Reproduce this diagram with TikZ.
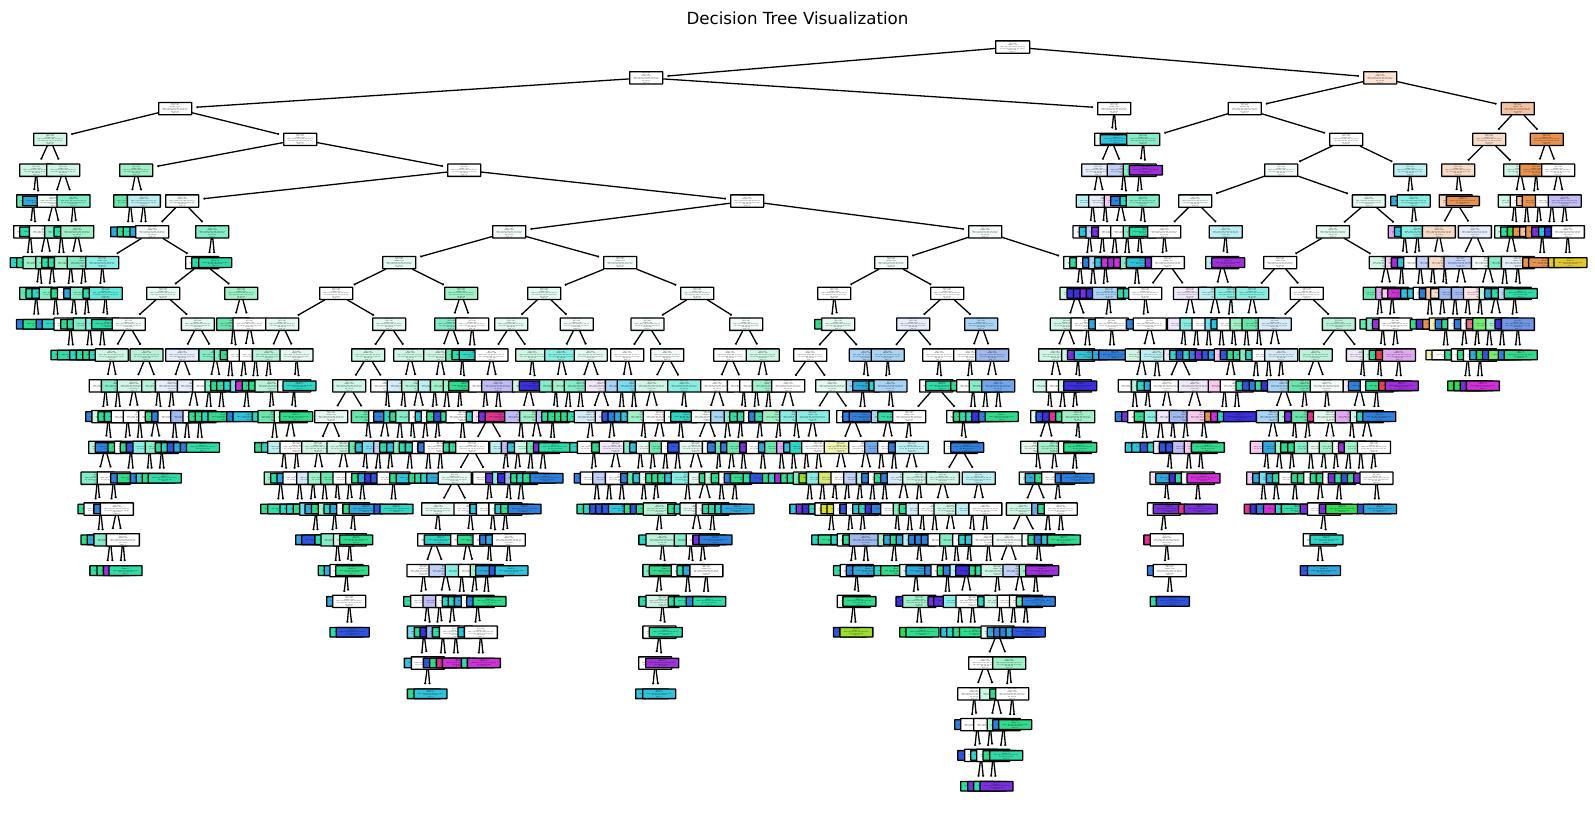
\documentclass[tikz,border=0pt]{standalone}
\usepackage{fontspec}
\setmainfont{DejaVu Sans}
\usetikzlibrary{arrows.meta}
\definecolor{cW}{HTML}{FFFFFF}\definecolor{ca}{HTML}{F3FCF8}\definecolor{cb}{HTML}{E4F9F0}
\definecolor{cc}{HTML}{D0F6E6}\definecolor{cd}{HTML}{BAF3DA}\definecolor{ce}{HTML}{A0F0C8}
\definecolor{cf}{HTML}{84ECC6}\definecolor{cg}{HTML}{6AE6AC}\definecolor{ch}{HTML}{30DC8C}
\definecolor{ci}{HTML}{2FDCA8}\definecolor{cj}{HTML}{2FD5C4}\definecolor{ck}{HTML}{2FC4DC}
\definecolor{cl}{HTML}{2FA8DC}\definecolor{cm}{HTML}{2F80DC}\definecolor{cn}{HTML}{2F55DC}
\definecolor{co}{HTML}{3A30DC}\definecolor{cp}{HTML}{7A30DC}\definecolor{cq}{HTML}{A030DC}
\definecolor{cr}{HTML}{D030D8}\definecolor{cs}{HTML}{E03090}\definecolor{ct}{HTML}{30DC50}
\definecolor{cu}{HTML}{88EEE4}\definecolor{cv}{HTML}{BCEFF3}\definecolor{cx}{HTML}{D4ECF8}
\definecolor{cy}{HTML}{A8D4F5}\definecolor{cz}{HTML}{E6EDFB}\definecolor{cA}{HTML}{C0D0F6}
\definecolor{cB}{HTML}{A0B8F0}\definecolor{cC}{HTML}{C0BCF5}\definecolor{cD}{HTML}{F0E8F8}
\definecolor{cE}{HTML}{E0A8F0}\definecolor{cF}{HTML}{F8C8F0}\definecolor{cG}{HTML}{F8DCC8}
\definecolor{cH}{HTML}{F3C3A0}\definecolor{cI}{HTML}{E8924F}\definecolor{cJ}{HTML}{E0C830}
\definecolor{cK}{HTML}{D8DC30}\definecolor{cL}{HTML}{F0F4B0}\definecolor{cM}{HTML}{E84050}
\definecolor{cN}{HTML}{9ADC30}\definecolor{cO}{HTML}{FBE3E8}\definecolor{cP}{HTML}{70EE70}
\definecolor{cQ}{HTML}{FBE3D4}\definecolor{cR}{HTML}{E87088}\definecolor{cS}{HTML}{7096E8}
\definecolor{cT}{HTML}{70A8EC}\definecolor{cV}{HTML}{78DCF0}\definecolor{cU}{HTML}{5A30DC}
\definecolor{cX}{HTML}{60E8D8}\definecolor{cZ}{HTML}{D8E870}
\newcommand\TinyF{\fontsize{1.25}{1.6}\selectfont}
\newcommand\InT{x[12] <= 0.5\\gini = 0.87\\samples = 120\\value = [12.0, 3.0, 5.0, 8.0, 4.0, 9.0, 1.0,\\2.0, 7.0, 6.0, 3.0, 5.0, 2.0, 4.0, 1.0, 3.0,\\0.0, 3.0, 9.0]\\class = 4}
\newcommand\LfT{gini = 0.5\\samples = 4\\value = [0.0, 0.0, 2.0, 0.0, 0.0, 2.0, 0.0,\\0.0, 0.0, 0.0, 0.0, 0.0]\\class = 2}
\tikzset{
 treebox/.style={draw=black,line width=1.3pt,rounded corners=0.35pt,anchor=west,minimum width=33pt,inner sep=0pt,align=center,font=\TinyF},
 inbox/.style={treebox,minimum height=12.3pt},
 lfbox/.style={treebox,minimum height=9.6pt},
 treeedge/.style={draw=black,line width=1.3pt,shorten >=4pt,shorten <=-0.5pt,-{Straight Barb[length=0.5pt,width=1.8pt]}}
}
\newcount\TRk \newcount\TRi \newcount\TRj
\newdimen\TRbest \newdimen\TRd \newdimen\TRmid \newdimen\TRy
\newcommand{\TRfind}[1]{%
 \TRj=1 \TRbest=16000pt
 \loop\ifnum\TRj<\numexpr\csname NI-#1\endcsname+1\relax
  \TRd=\dimexpr\csname IX-#1-\the\TRj\endcsname-\TRmid\relax
  \ifdim\TRd<0pt \TRd=-\TRd \fi
  \ifdim\TRd<\TRbest \TRbest=\TRd \edef\TRparent{\csname IN-#1-\the\TRj\endcsname}\fi
  \advance\TRj by 1
 \repeat}
\newcommand{\TRnode}[4]{%
 \global\advance\TRk by 1
 \edef\TRname{n#1x\the\TRk}%
 \ifnum#4=1
  \global\advance\TRi by 1
  \expandafter\xdef\csname IX-#1-\the\TRi\endcsname{#2pt}%
  \expandafter\xdef\csname IN-#1-\the\TRi\endcsname{\TRname}%
  \node[inbox,fill=c#3] (\TRname) at (#2pt,-\the\TRy) {\InT};
 \else
  \node[lfbox,fill=c#3] (\TRname) at (#2pt,-\the\TRy) {\LfT};
 \fi
 \draw[treeedge] (\TRparent) -- (\TRname);}
\newcommand{\TreeRow}[2]{%
 \global\TRk=0 \global\TRi=0
 \TRy=\dimexpr 47pt+30.8pt*#1\relax
 \foreach \xa/\ca/\ta/\xb/\cb/\tb in {#2}{%
  \TRmid=\dimexpr(\xa pt+\xb pt)/2\relax
  \TRfind{\the\numexpr#1-1\relax}%
  \TRnode{#1}{\xa}{\ca}{\ta}%
  \TRnode{#1}{\xb}{\cb}{\tb}%
 }%
 \expandafter\xdef\csname NI-#1\endcsname{\the\TRi}}
\begin{document}
\begin{tikzpicture}[x=1pt,y=1pt]
\path[fill=white] (0pt,0pt) rectangle (1595pt,-812pt);
\useasboundingbox (0pt,0pt) rectangle (1595pt,-812pt);
\node[font=\fontsize{16.7}{20}\selectfont,inner sep=0pt] (title) at (797.5pt,-18.5pt) {Decision Tree Visualization};
\node[inbox,fill=cW,minimum width=34pt] (n0x1) at (995pt,-47pt) {\InT};
\expandafter\xdef\csname NI-0\endcsname{1}
\expandafter\xdef\csname IX-0-1\endcsname{995pt}
\expandafter\xdef\csname IN-0-1\endcsname{n0x1}
\TreeRow{1}{629/W/1/1363/Q/1}
\TreeRow{2}{158/W/1/1097/W/1,1227.6/W/1/1500.6/H/1}
\TreeRow{3}{33/c/1/283/W/1,1094/a/1/1099.5/k/0,1126/f/1/1329/W/1,1472/G/1/1529.5/I/1}
\TreeRow{4}{19/c/1/46/c/1,119/e/1/447/W/1,1081/z/1/1106.5/A/1,1122.5/f/1/1128.7/q/0,1264/a/1/1393/v/1,1441/G/1/1503/c/1,1519/I/1/1541/W/1}
\TreeRow{5}{16/g/1/22/l/0,36.5/a/1/56.4/f/1,113/g/1/126.7/v/1,165/a/1/730/W/1,1075.5/v/1/1088/z/1,1103.5/F/1/1110/m/0,1119.4/j/0/1125.6/f/1,1178/a/1/1351.7/b/1,1390/l/0/1396.5/u/1,1438.5/G/1/1445.7/I/0,1497.5/c/1/1509.5/W/1,1516/H/0/1521.5/I/1,1534.8/W/1/1547.6/C/1}
\TreeRow{6}{13/W/1/19/i/0,28.7/a/1/44/f/1,53.4/i/0/60/e/1,110/l/0/116.5/h/0,122.6/i/0/129.4/l/0,135/a/1/195/f/1,492/a/1/968/a/1,1072.4/W/1/1078.6/k/0,1085.3/A/1/1091/p/0,1097.7/W/1/1110/W/1,1122.5/f/1/1128.7/i/0,1147/W/1/1208.5/v/1,1315.8/b/1/1387.6/E/1,1393.8/k/0/1400.4/u/1,1421.7/G/1/1457.7/z/1,1494/c/1/1500/i/0,1506.7/t/0/1512.3/I/0,1519/H/0/1525/I/1,1531/p/0/1538/k/0,1544/o/0/1550.7/W/1}
\TreeRow{7}{9.5/j/0/16/i/0,22.3/e/1/35/f/1,41/i/0/47.6/i/0,53.7/e/1/66.5/f/1,85/u/1/185/W/1,191/i/0/198/i/0,382/b/1/603/a/1,874/a/1/1063/b/1,1069/i/0/1075.7/W/1,1082/m/0/1088/y/1,1094/k/0/1100.7/r/0,1107/q/0/1113/r/0,1119.6/f/1/1125.7/k/0,1144.6/p/0/1150.7/W/1,1205/v/1/1211/q/0,1263/W/1/1368.6/c/1,1384.6/F/1/1390.7/q/0,1396.8/k/0/1403/W/1,1415.7/A/1/1427.7/G/1,1443.3/A/1/1470.7/a/1,1487.7/f/1/1500.7/z/1,1522/I/0/1528/I/0,1547.7/J/0/1553.3/J/0}
\TreeRow{8}{19/g/1/25.3/i/0,31.4/j/0/38.5/f/1,50.3/h/0/56.8/W/1,63/l/0/69.6/f/1,82.4/i/0/88.5/X/1,146/b/1/224/e/1,319/W/1/444/e/1,527/b/1/680/a/1,817/W/1/930/W/1,1059.3/c/1/1066.4/o/0,1072.9/o/0/1079.3/p/0,1085.7/o/0/1091.8/y/1,1116.8/i/0/1122.9/j/0,1128/W/1/1172.9/D/1,1197.9/v/1/1214/u/1,1235/u/1/1289.6/W/1,1362.5/g/1/1375/E/1,1381.4/F/0/1387/r/0,1400/k/0/1406.8/k/0,1412.5/W/1/1418.6/m/0,1425/H/1/1430/G/0,1438/B/1/1450.7/B/1,1462.9/O/1/1478.6/d/1,1484/l/0/1490.7/i/0,1497.5/A/1/1503.6/i/0}
\TreeRow{9}{15.9/m/0/22.3/h/0,35.5/m/0/41.6/j/0,53.4/W/1/60/h/0,66.6/i/0/72.6/f/1,85/u/1/91/i/0,111.5/a/1/180.7/b/1,216/g/1/232.4/W/1,265/b/1/372/b/1,434/f/1/455/W/1,494/b/1/559.5/a/1,630.4/a/1/729/a/1,814/h/0/821/b/1,896/z/1/964/y/1,1049.6/c/1/1070.4/W/1,1088/l/0/1094.6/W/1,1125.7/m/0/1132.5/W/1,1166.8/D/1/1179.3/u/1,1191.4/W/1/1204.3/V/1,1210.4/k/0/1216.4/W/1,1229.3/e/1/1241.4/g/1,1257.5/x/1/1321.7/d/1,1359.3/g/0/1365.7/f/1,1371.8/q/0/1378.2/W/1,1409.6/h/0/1415.7/U/0,1422/I/0/1428.6/L/1,1434.6/m/0/1441/h/0,1447/W/1/1453.6/m/0,1460/W/1/1465.7/R/0,1472/P/1/1485/e/1,1494.3/o/0/1500.7/S/1}
\TreeRow{10}{50.3/i/0/56.8/i/0,69/j/0/75.7/i/0,82/h/0/88.5/j/0,94.6/c/1/129.4/d/1,165/z/1/198.3/f/1,213.5/f/1/219.6/h/0,226.7/W/1/238.5/W/1,251.7/d/1/279.4/b/1,351/c/1/393/c/1,423/c/1/445/g/1,451.4/i/0/458.5/j/0,474.3/W/1/515/c/1,544/u/1/573.6/b/1,610/W/1/650/a/1,713/W/1/745.6/c/1,793/W/1/848.6/y/1,870.6/y/1/922/W/1,953/W/1/975/B/1,1038/c/1/1061/c/1,1066.8/p/0/1073.6/k/0,1091.8/l/0/1098/m/0,1124.6/c/1/1139.6/v/1,1163/D/1/1169/j/0,1175.7/n/0/1182/j/0,1188.6/m/0/1194.6/p/0,1201.4/n/0/1207.5/l/0,1213.6/F/1/1219.6/n/0,1226.4/h/0/1232.5/i/0,1239/f/1/1245/j/0,1251.4/W/1/1264/x/1,1298.6/d/1/1345.7/D/1,1362.5/c/1/1368.6/h/0,1375/M/0/1381.8/E/1,1425.4/L/0/1431.4/W/0,1444/h/0/1450.7/W/1,1456.8/h/0/1462.9/W/1,1469/l/0/1475.7/t/0,1481.8/n/0/1487.9/P/0,1497.5/m/0/1503.6/h/0}
\TreeRow{11}{88.5/W/1/100.7/f/1,116.6/c/1/141/d/1,154.7/z/1/176.7/z/1,192/W/1/204.4/f/1,210/h/0/216/i/0,223/j/0/229.7/V/1,235/r/0/241.5/h/0,248/h/0/254.4/d/1,277/W/1/282.4/j/0,332/c/1/370/W/1,386.5/x/1/401/d/1,417.6/v/1/429.7/e/1,442.6/e/1/448/h/0,468/W/1/481/C/1,511.8/c/1/518.6/o/0,538.9/f/1/551.7/e/1,563.5/f/1/584.5/D/1,604.7/y/1/616.6/V/1,634.5/c/1/667/u/1,700/W/1/726.7/W/1,739/W/1/751.7/e/1,771/W/1/815/b/1,845.6/y/1/852/l/0,868.2/j/0/873.3/y/1,919/W/1/925/i/0,950/h/0/956/W/1,968.6/f/1/981/T/1,1032.5/c/1/1045.7/W/1,1057.9/c/1/1063/o/0,1117.5/W/1/1130.7/d/1,1136.4/j/0/1143.6/l/0,1149.6/W/1/1177.5/D/1,1207.5/F/1/1219.6/W/1,1235.4/i/0/1241.8/n/0,1248.6/m/0/1254.6/i/0,1260.7/o/0/1266.8/y/1,1287.5/g/1/1309.6/a/1,1342.5/D/1/1347.9/m/0,1359.6/W/1/1365/h/0,1378/M/0/1384.6/q/0,1447/t/0/1453.2/t/0,1459.6/p/0/1465.7/r/0}
\TreeRow{12}{85/m/0/91.2/c/1,97.3/h/0/103.7/i/0,110.5/W/1/122.6/W/1,138/W/1/144.6/h/0,151/m/0/157.4/W/1,170/B/1/182.4/W/1,188/h/0/194.6/h/0,201/j/0/207.4/h/0,226/m/0/232.4/k/0,251.7/j/0/257.4/g/1,273.6/c/1/279/h/0,314/b/1/350.7/g/1,368/W/1/373/m/0,383/j/1/389/h/0,395/f/1/408.4/W/1,414.5/k/0/420.6/W/1,426/h/0/433/n/0,440/i/0/445.3/W/1,465.5/j/0/471.6/D/1,478/p/0/484.5/s/0,504/C/1/519/e/1,535.5/C/1/541/i/0,547/h/0/554/h/0,560/h/0/566.6/i/0,573.6/x/1/594.6/D/1,601.4/n/0/607.4/m/0,613.9/l/0/620/k/0,626.7/e/1/642.6/W/1,663.5/W/1/670/j/0,690.5/a/1/710/y/1,723.6/f/1/729/i/0,736.5/i/0/743/W/1,748/m/0/754/i/0,761.8/e/1/779/u/1,795.6/u/1/836/W/1,842/m/0/848.6/m/0,870.6/y/1/877/i/0,892/W/1/946/a/1,952.7/h/0/958.8/i/0,965/j/0/971/o/0,978/m/0/984.5/h/0,1030/b/1/1035.4/n/0,1041.8/o/0/1048.6/s/0,1055/h/0/1061/e/1,1114.6/m/0/1121/p/0,1127/W/1/1133.6/h/0,1143.6/u/1/1155.7/D/1,1168.6/B/1/1186.4/F/1,1204/I/0/1210/r/0,1216.8/j/0/1222.9/o/0,1255.7/y/1/1277.5/d/1,1284/p/0/1290.7/g/1,1306.8/s/0/1312.9/b/1,1334.6/E/1/1349.6/c/1,1356/j/0/1362/m/0}
\TreeRow{13}{88/d/1/94.6/m/0,107.4/h/0/113.9/W/1,119.6/h/0/125.7/n/0,132.4/u/1/144.6/f/1,154.7/i/0/160.5/j/0,166.6/n/0/173/l/0,179.7/m/0/185.8/i/0,254/h/0/260.8/j/0,267/v/1/279.4/W/1,301/c/1/326.4/c/1,348.3/g/1/354.7/k/0,361.5/V/1/373/A/1,379/i/0/386/k/0,392.9/f/1/398.6/i/0,404.7/j/0/411.5/W/1,417.2/m/0/423.3/W/1,442.6/i/0/448.6/i/0,455/W/1/489/v/1,500.7/C/1/506.8/k/0,513.9/c/1/526/g/1,532.8/p/0/538/i/0,569/j/0/576.7/W/1,591/h/0/598.6/D/1,623/f/1/629/k/0,635.5/b/1/648.6/g/1,660.5/W/1/667/n/0,678.4/b/1/701.7/W/1,706.8/m/0/714.5/g/1,720/m/0/726/g/1,739/p/0/745.6/W/1,757.8/l/0/764/g/1,776/E/1/783/k/0,789/j/1/801/W/1,823.6/L/1/848/W/1,864/T/1/877/W/1,887.8/m/0/894.6/v/1,943.6/a/1/950/m/0,1020/b/1/1037/e/1,1057.9/W/1/1063/h/0,1124.6/k/0/1131/k/0,1139.6/n/0/1146.8/j/0,1152.9/D/1/1158.6/n/0,1165/n/0/1171.8/C/1,1183.6/F/1/1190.7/h/0,1249.6/F/1/1262/l/1,1274.6/e/1/1280/h/0,1287/h/0/1293.6/f/1,1306.8/b/1/1318.6/e/1,1331.8/a/1/1337.9/q/0,1343.6/e/1/1356.8/W/1}
\TreeRow{14}{80.4/f/1/96.6/W/1,110/m/0/116.6/h/0,129.7/m/0/135.5/j/0,141.6/h/0/147.6/i/0,263.5/e/1/270/i/0,276.4/l/0/282.4/W/1,296/x/1/307.4/e/1,320/g/1/332.4/W/1,345/W/1/351/h/0,357.4/l/0/364/o/0,370/n/0/376.4/W/1,389/h/0/395.6/k/0,408/h/0/414/i/0,420/j/0/426/l/0,437.5/b/1/472/W/1,485/U/0/491.9/u/1,497/o/0/504/B/1,510/h/0/516/j/0,522/h/0/529.4/m/0,573.6/m/0/579.7/W/1,592/A/1/604.7/W/1,620/m/0/626.7/g/1,632.4/k/0/638.9/b/1,645/h/0/651/h/0,657/i/0/664/k/0,670.6/u/1/687.8/b/1,698.6/h/0/704/d/1,710.5/h/0/718/W/1,723.6/m/0/729.7/h/0,742.6/i/0/749.3/n/0,761.8/h/0/767.9/j/0,774/q/0/780/h/0,786.5/i/0/792.6/f/1,798.3/N/0/805.7/u/1,817.9/Z/1/830.4/W/1,843/A/1/855.7/d/1,861/m/0/867.6/W/1,873.6/h/0/880/m/0,886.5/x/1/902/c/1,925.7/c/1/961.5/v/1,1018.6/b/1/1024.6/l/0,1034/h/0/1041/W/1,1054.6/m/0/1060.4/m/0,1149.3/D/1/1155/l/0,1168.6/o/0/1174.6/i/0,1180.7/W/1/1186.4/r/0,1246/F/1/1252/l/0,1258.6/V/1/1265.7/l/0,1271.8/i/0/1278/W/1,1290.7/h/0/1296.8/h/0,1303/W/1/1309.6/h/0,1315.7/h/0/1322/W/1,1327.5/p/0/1334/i/0,1340.7/n/0/1346.8/h/0,1353/p/0/1359.3/W/1}
\TreeRow{15}{77.4/h/0/83.4/W/1,93.2/m/0/99.7/W/1,260/h/0/267/i/0,279.4/j/0/285.8/j/0,292.6/h/0/299/V/1,304.4/l/0/310.8/h/0,317.6/e/1/323.3/j/0,329.4/l/0/336/W/1,342.2/h/0/348.6/l/0,373.3/n/0/379.4/j/0,421/b/1/453.4/W/1,469.2/k/0/475.7/W/1,488.2/W/1/494.3/k/0,500/h/0/507.4/m/0,576.4/i/0/582.8/j/0,589/n/0/595/n/0,601.4/n/0/607.8/k/0,623.6/h/0/629.7/n/0,635.5/h/0/642.6/d/1,667/h/0/673.6/j/0,679.4/b/1/695.3/W/1,701.7/i/0/707.8/i/0,714.2/j/0/720.3/l/0,789.2/k/0/795.6/p/0,801.7/o/0/808/j/0,814.2/W/1/820.3/K/0,826.4/K/0/832.8/W/1,839.2/n/0/845.6/W/1,852/k/0/858/j/0,864.5/o/0/870.6/m/0,880/W/1/892.6/f/1,898.6/h/0/905.4/x/1,917.6/W/1/933.4/c/1,955/v/1/968.2/W/1,1005.7/c/1/1031/T/1,1037/h/0/1043.6/W/1,1146.8/W/1/1152.5/p/0,1177.9/s/0/1183.6/p/0,1243.6/s/0/1249.6/o/0,1255.7/m/0/1262.9/r/0,1274.6/j/0/1280.7/i/0,1299.6/p/0/1306.8/W/1,1318.6/p/0/1325/t/0,1356.8/n/0/1362.9/l/0}
\TreeRow{16}{80.4/h/0/86.5/l/0,93.2/f/1/105.7/W/1,295/l/0/301/n/0,314.2/i/0/320.3/f/1,332.8/c/1/339/h/0,417/a/1/423.7/j/0,450/W/1/456.8/h/0,472.3/W/1/479/m/0,485/l/0/491.5/W/1,638.2/j/0/645.3/d/1,673.6/f/1/685.5/W/1,692.2/p/0/698.3/m/0,811/j/0/817.6/h/0,830.4/j/0/836.5/b/1,842.2/h/0/848.6/B/1,877.4/e/1/883/l/0,889.5/h/0/895.6/l/0,902/v/1/907.8/m/0,914.2/m/0/920.6/m/0,927.4/W/1/939/f/1,952/W/1/958/j/0,964.5/k/0/971/W/1,992/a/1/1021.3/W/1,1027.3/h/0/1033.7/m/0,1040.7/k/0/1046.7/h/0,1143.2/s/0/1149.6/W/1,1302.5/W/1/1309.3/j/0}
\TreeRow{17}{89.2/i/0/96.3/h/0,102.7/q/0/108.4/i/0,317.6/i/0/323.6/l/0,329.4/W/1/335/h/0,406.4/W/1/428.4/A/1,444.6/u/1/457.8/W/1,469.6/e/1/475/l/0,488.5/n/0/494.3/k/0,642.2/f/1/648.6/h/0,670.6/W/1/676.4/i/0,682.4/l/0/689.2/W/1,832.8/i/0/839.5/W/1,845.6/m/0/852/l/0,873.3/j/0/880/h/0,899/b/1/905.4/l/0,924/m/0/930.4/W/1,936.5/h/0/942.6/m/0,949.3/v/1/955/o/0,968.6/h/0/974.7/i/0,980.4/c/1/1002.4/A/1,1018.6/e/1/1025/q/0,1146.8/m/0/1152.5/W/1,1299.6/n/0/1306.8/l/0}
\TreeRow{18}{326/l/0/332/W/1,403/i/0/410/W/1,422.3/C/1/435/W/1,441.5/j/0/447.6/j/0,453.7/l/0/460.5/W/1,466/m/0/472.3/h/0,638.2/i/0/645.3/c/1,667.6/i/0/673.6/i/0,685.5/m/0/692/i/0,836.5/W/1/842.2/h/0,895.3/o/0/902/e/1,927.4/p/0/933/U/0,942.6/u/1/955.4/W/1,977/j/0/983.4/c/1,996.6/W/1/1008.8/W/1,1015.7/g/0/1021.5/m/0,1149.6/i/0/1155.7/n/0}
\TreeRow{19}{329.4/i/0/335.5/n/0,406.7/V/1/413.7/h/0,419.3/o/0/425.7/B/1,431.7/i/0/438.7/W/1,457.3/k/0/463.7/W/1,642.2/W/1/648.6/i/0,832.8/n/0/839.2/N/0,899/t/0/905.4/h/0,940/k/0/946/j/0,952.4/h/0/958.8/h/0,980.4/b/1/986.5/l/0,993/m/0/999/m/0,1005.4/l/0/1011.5/n/0}
\TreeRow{20}{403.7/k/0/410.7/W/1,422.7/n/0/429/h/0,435.7/s/0/441.7/r/0,460.7/i/0/466.7/r/0,638/W/1/645/q/0,968/W/1/992/e/1}
\TreeRow{21}{406.7/h/0/413.3/k/0,635/k/0/642/k/0,957/W/1/979/c/1,989/h/0/995/W/1}
\TreeRow{22}{954/m/0/960/W/1,973/W/1/986.5/e/1,992/m/0/998/h/0}
\TreeRow{23}{957/n/0/964/W/1,970/j/0/976/W/1,982.4/h/0/989/i/0}
\TreeRow{24}{960/i/0/967/p/0,973/i/0/979.4/p/0}
\end{tikzpicture}
\end{document}
